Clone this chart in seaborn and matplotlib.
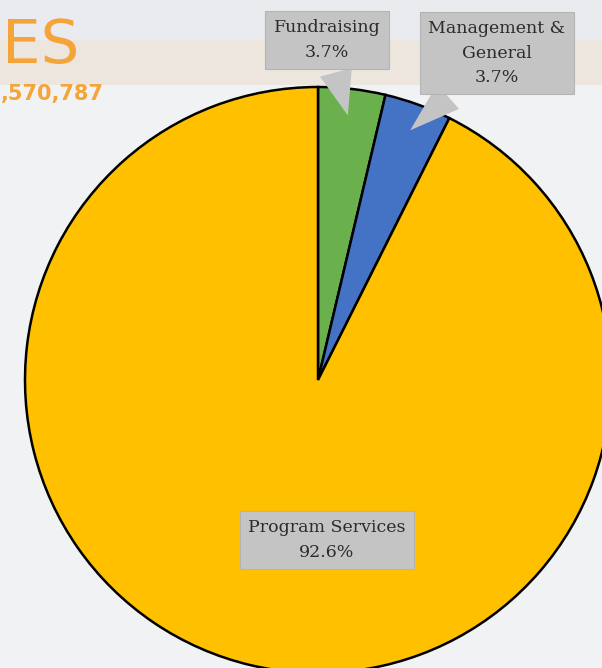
import numpy as np
import matplotlib
matplotlib.use('Agg')
import matplotlib.pyplot as plt
import seaborn as sns

sns.set_style('white')
plt.rcParams['font.family'] = ['DejaVu Serif', 'DejaVu Sans']

# data
categories = ['Fundraising', 'Management &\nGeneral', 'Program Services']
shares = [3.7, 3.7, 92.6]
colors = ['#6AB04C', '#4472C4', '#FFC000']

W, H = 602, 668
CX, CY, R = 318, 380, 293  # pie centre / radius in pixels


def px(x, y):
    """pixel position -> data units of the pie axes"""
    return (x - CX) / R, (CY - y) / R


fig = plt.figure(figsize=(W / 100, H / 100), dpi=100)
fig.patch.set_facecolor('#f1f2f4')

# washed-out background photo: grey sky, beige band, snow
bg = fig.add_axes([0, 0, 1, 1], zorder=-1)
bg.set_xlim(0, W)
bg.set_ylim(H, 0)
bg.axis('off')
bg.axhspan(0, 40, color='#e9ebee', lw=0)
bg.axhspan(40, 85, color='#ede6de', lw=0)
bg.axhspan(85, H, color='#f1f2f4', lw=0)

ax = fig.add_axes([0, 0, 1, 1])
ax.set_facecolor('none')
wedges, _ = ax.pie(shares, colors=colors, startangle=90, counterclock=False,
                   radius=1, wedgeprops=dict(edgecolor='black', linewidth=1.8))
x0, y0 = px(0, H)
x1, y1 = px(W, 0)
ax.set_xlim(x0, x1)
ax.set_ylim(y0, y1)
ax.set_aspect('equal')
ax.axis('off')

box = dict(boxstyle='square,pad=0.5', fc='#c4c4c4', ec='#b4b4b4', lw=0.8)
arrow = dict(arrowstyle='wedge,tail_width=1.9,shrink_factor=0.5', fc='#c4c4c4', ec='none')
txt = dict(fontsize=12.5, color='#2b2b2b', ha='center', va='center', linespacing=1.55)

# callout labels, anchored on the middle of each small slice
theta = np.cumsum([0] + shares[:-1]) + np.array(shares) / 2
for i, (lab, val) in enumerate(zip(categories[:2], shares[:2])):
    ang = np.deg2rad(90 - theta[i] * 3.6)
    tip = (0.9 * np.cos(ang), 0.9 * np.sin(ang))
    pos = [px(327, 40), px(497, 53)][i]
    ax.annotate(f'{lab}\n{val}%', xy=tip, xytext=pos, bbox=box, arrowprops=arrow,
                annotation_clip=False, **txt)

ax.text(*px(327, 540), f'{categories[2]}\n{shares[2]}%', bbox=box, **txt)

# heading of the slide (only its tail is visible in the reference)
fig.text(2 / W, 1 - 63 / H, 'ES', color='#F5A43A', fontsize=44,
         family=['DejaVu Sans'], ha='left', va='baseline')
fig.text(1 / W, 1 - 100 / H, ',570,787', color='#F5A43A', fontsize=15, fontweight='bold',
         family=['DejaVu Sans'], ha='left', va='baseline')

fig.savefig('out.png', dpi=100, facecolor=fig.get_facecolor())
